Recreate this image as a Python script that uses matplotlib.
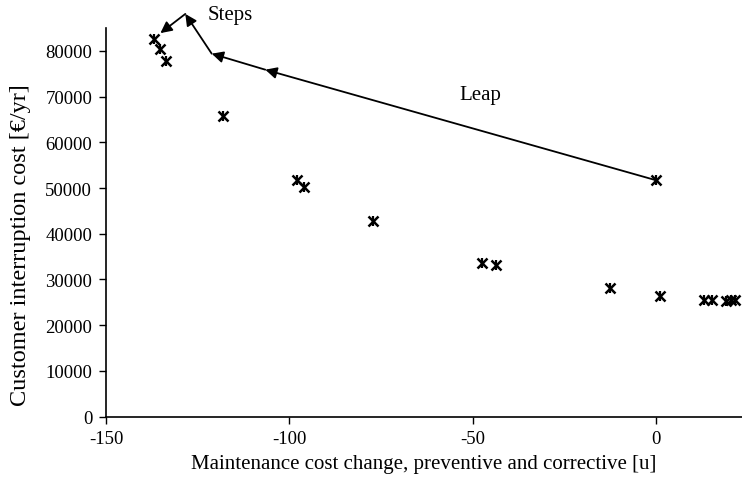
import matplotlib.pyplot as plt

plt.rcParams['font.family'] = ['Liberation Serif', 'DejaVu Serif']
plt.rcParams['axes.unicode_minus'] = False

# maintenance cost change [u] vs customer interruption cost [EUR/yr]
maint_change = [-137.0, -135.4, -133.6, -118.2, -98.0, -96.0, -77.3, -47.5, -43.6,
                -12.5, 0.0, 1.1, 13.1, 15.1, 19.0, 20.3, 21.6]
interrupt_cost = [82600, 80400, 77800, 65800, 51700, 50300, 42800, 33500, 33100,
                  28200, 51700, 26400, 25600, 25600, 25300, 25500, 25500]

# annotation paths (arrow vertices)
leap_path = [(0.0, 51700), (-106.6, 75900), (-121.2, 79400)]
steps_path = [(-121.2, 79400), (-128.4, 88100), (-135.2, 83900)]

fig = plt.figure(figsize=(7.42, 4.85), dpi=100)
ax = fig.add_axes([0.143, 0.139, 0.857, 0.801])

ax.plot(maint_change, interrupt_cost, ls='none', marker='x', ms=6.5, mew=1.8, color='black')
ax.plot(maint_change, interrupt_cost, ls='none', marker='|', ms=7, mew=1.6, color='black')

arrow_kw = dict(arrowstyle='-|>', color='black', lw=1.3, mutation_scale=17,
                shrinkA=0, shrinkB=0)
for path in (leap_path, steps_path):
    for start, end in zip(path[:-1], path[1:]):
        ax.annotate('', xy=end, xytext=start, arrowprops=arrow_kw, annotation_clip=False)

ax.text(-122.4, 87900, 'Steps', fontsize=15, va='center', ha='left')
ax.text(-53.7, 70400, 'Leap', fontsize=15, va='center', ha='left')

ax.set_xlim(-150, 23.4)
ax.set_ylim(0, 85000)
ax.set_xticks([-150, -100, -50, 0])
ax.set_yticks(range(0, 80001, 10000))
ax.tick_params(direction='out', length=5, width=1, labelsize=13.5, pad=5)
for s in ('top', 'right'):
    ax.spines[s].set_visible(False)
for s in ('left', 'bottom'):
    ax.spines[s].set_linewidth(1.2)

ax.set_xlabel('Maintenance cost change, preventive and corrective [u]', fontsize=15, labelpad=5)
ax.set_ylabel('Customer interruption cost [€/yr]', fontsize=17.5)
ax.yaxis.set_label_coords(-0.118, 0.444)

fig.savefig('out.png', dpi=100)
